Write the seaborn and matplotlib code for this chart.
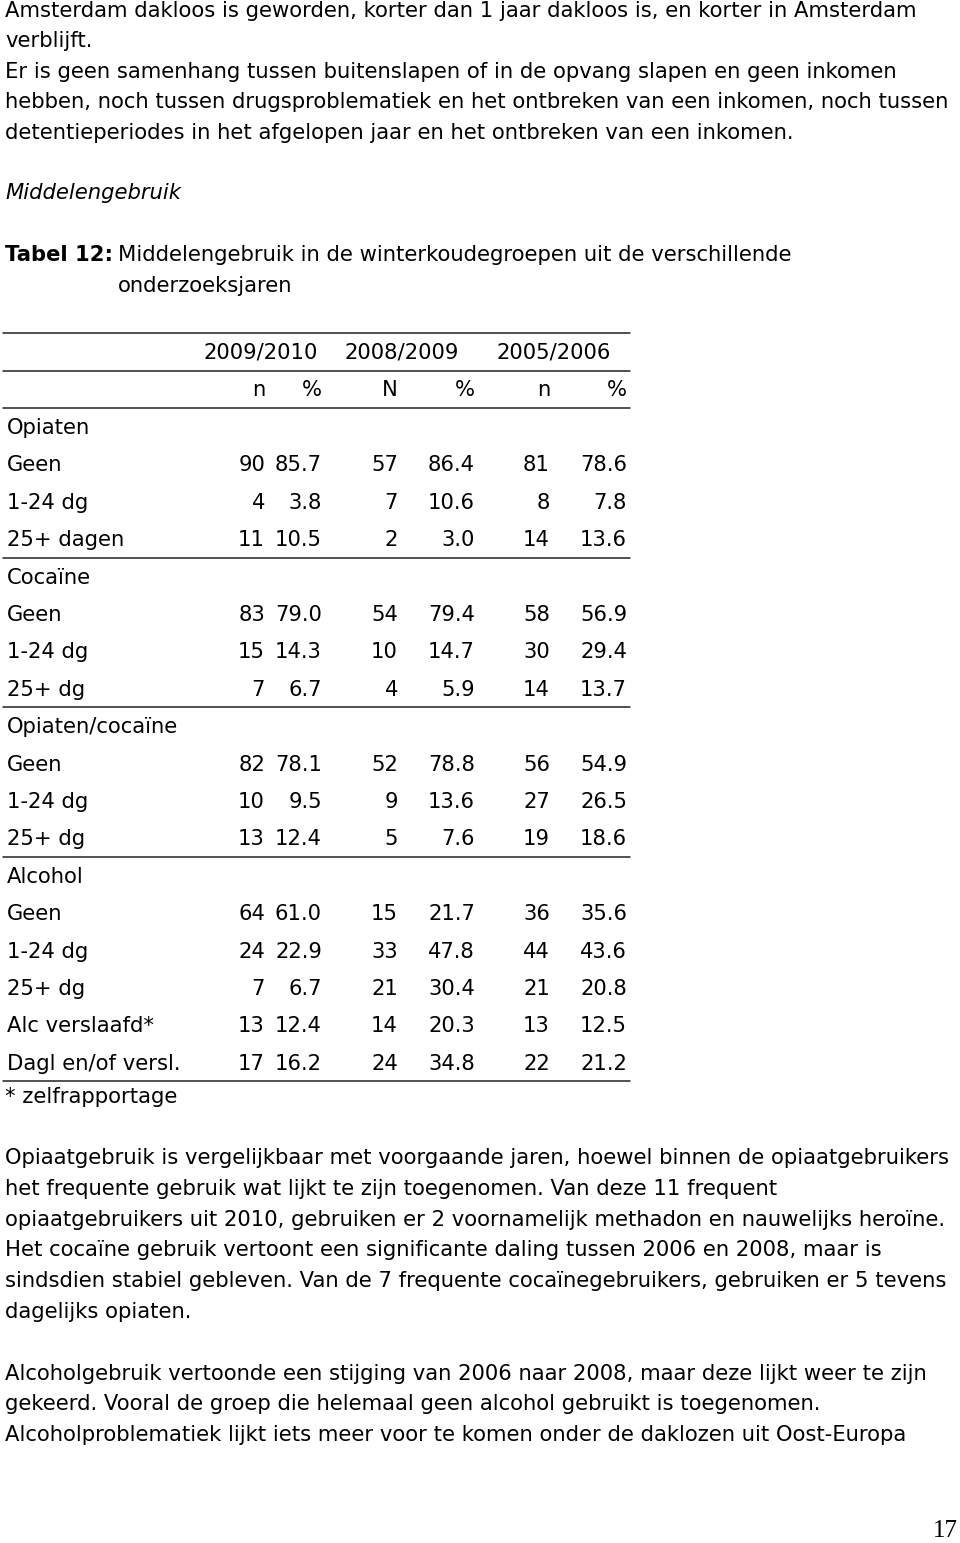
import numpy as np
import pandas as pd
import seaborn as sns
import matplotlib.pyplot as plt

# Tabel 12 - data
rijen = ['Geen', '1-24 dg', '25+ dagen',
         'Geen', '1-24 dg', '25+ dg',
         'Geen', '1-24 dg', '25+ dg',
         'Geen', '1-24 dg', '25+ dg', 'Alc verslaafd*', 'Dagl en/of versl.']
groepen = ['Opiaten', 'Cocaïne', 'Opiaten/cocaïne', 'Alcohol']
groep_grootte = [3, 3, 3, 5]
jaren = ['2009/2010', '2008/2009', '2005/2006']
kol_koppen = ['n', '%', 'N', '%', 'n', '%']

n_2010 = [90, 4, 11, 83, 15, 7, 82, 10, 13, 64, 24, 7, 13, 17]
pct_2010 = [85.7, 3.8, 10.5, 79.0, 14.3, 6.7, 78.1, 9.5, 12.4, 61.0, 22.9, 6.7, 12.4, 16.2]
n_2009 = [57, 7, 2, 54, 10, 4, 52, 9, 5, 15, 33, 21, 14, 24]
pct_2009 = [86.4, 10.6, 3.0, 79.4, 14.7, 5.9, 78.8, 13.6, 7.6, 21.7, 47.8, 30.4, 20.3, 34.8]
n_2006 = [81, 8, 14, 58, 30, 14, 56, 27, 19, 36, 44, 21, 13, 22]
pct_2006 = [78.6, 7.8, 13.6, 56.9, 29.4, 13.7, 54.9, 26.5, 18.6, 35.6, 43.6, 20.8, 12.5, 21.2]

tekst_boven = [
    'Amsterdam dakloos is geworden, korter dan 1 jaar dakloos is, en korter in Amsterdam',
    'verblijft.',
    'Er is geen samenhang tussen buitenslapen of in de opvang slapen en geen inkomen',
    'hebben, noch tussen drugsproblematiek en het ontbreken van een inkomen, noch tussen',
    'detentieperiodes in het afgelopen jaar en het ontbreken van een inkomen.',
]
tekst_onder = [
    'Opiaatgebruik is vergelijkbaar met voorgaande jaren, hoewel binnen de opiaatgebruikers',
    'het frequente gebruik wat lijkt te zijn toegenomen. Van deze 11 frequent',
    'opiaatgebruikers uit 2010, gebruiken er 2 voornamelijk methadon en nauwelijks heroïne.',
    'Het cocaïne gebruik vertoont een significante daling tussen 2006 en 2008, maar is',
    'sindsdien stabiel gebleven. Van de 7 frequente cocaïnegebruikers, gebruiken er 5 tevens',
    'dagelijks opiaten.',
    '',
    'Alcoholgebruik vertoonde een stijging van 2006 naar 2008, maar deze lijkt weer te zijn',
    'gekeerd. Vooral de groep die helemaal geen alcohol gebruikt is toegenomen.',
    'Alcoholproblematiek lijkt iets meer voor te komen onder de daklozen uit Oost-Europa',
]

sns.set_theme(style='white')
plt.rcParams['font.family'] = ['DejaVu Sans']

fig = plt.figure(figsize=(9.6, 15.43), dpi=100)
ax = fig.add_axes([0, 0, 1, 1])
ax.set_xlim(0, 960)
ax.set_ylim(1543, 0)
ax.axis('off')

fs = 15.2
kw = dict(fontsize=fs, color='black', va='center')

# Bovenste alinea
for i, regel in enumerate(tekst_boven):
    ax.text(5, 11 + i * 30.4, regel, ha='left', **kw)

ax.text(5, 193, 'Middelengebruik', ha='left', style='italic', **kw)

# Tabeltitel
ax.text(5, 255, 'Tabel 12:', ha='left', fontweight='bold', **kw)
ax.text(118, 255, 'Middelengebruik in de winterkoudegroepen uit de verschillende',
        ha='left', **kw)
ax.text(118, 286, 'onderzoeksjaren', ha='left', **kw)

# Tabel
x0, x1 = 3, 630
lw = 1.1
lc = '#222222'
for y in [333, 371, 408]:
    ax.plot([x0, x1], [y, y], color=lc, lw=lw)

jaar_x = [261, 402, 554]
for j, jaar in enumerate(jaren):
    ax.text(jaar_x[j], 352, jaar, ha='center', **kw)

kol_x = [265, 322, 398, 475, 550, 627]
for k, kop in enumerate(kol_koppen):
    ax.text(kol_x[k], 390, kop, ha='right', **kw)

kolommen = [n_2010, pct_2010, n_2009, pct_2009, n_2006, pct_2006]
dy = 37.4
y = 428
r = 0
for g, groep in enumerate(groepen):
    ax.text(7, y, groep, ha='left', **kw)
    y += dy
    for _ in range(groep_grootte[g]):
        ax.text(7, y, rijen[r], ha='left', **kw)
        for k, kol in enumerate(kolommen):
            waarde = kol[r]
            s = f'{waarde:.1f}' if k % 2 == 1 else f'{waarde:d}'
            ax.text(kol_x[k], y, s, ha='right', **kw)
        r += 1
        y += dy
    lijn_y = y - dy / 2 - 1
    ax.plot([x0, x1], [lijn_y, lijn_y], color=lc, lw=lw)

ax.text(5, 1097, '* zelfrapportage', ha='left', **kw)

# Onderste alinea
for i, regel in enumerate(tekst_onder):
    if regel:
        ax.text(5, 1158 + i * 30.8, regel, ha='left', **kw)

# Paginanummer
ax.text(958, 1531, '17', ha='right', va='center', fontsize=18,
        family='Liberation Serif', color='black')

plt.savefig('out.png', dpi=100, facecolor='white')
